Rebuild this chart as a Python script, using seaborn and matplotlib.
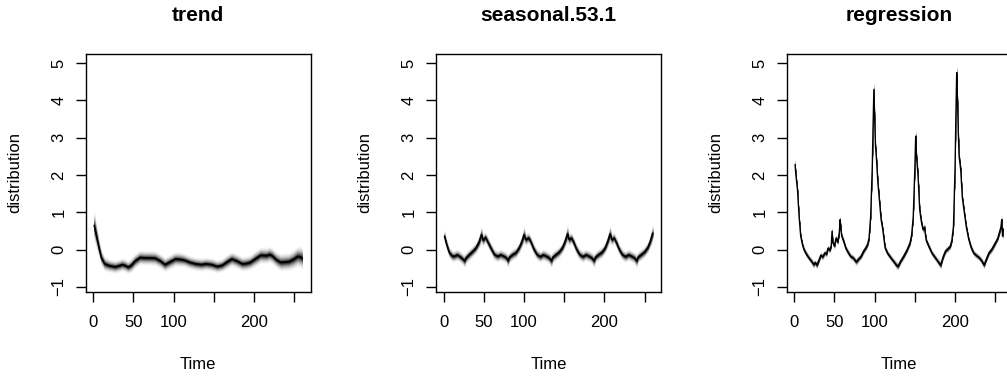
import numpy as np
import pandas as pd
import matplotlib
matplotlib.use("Agg")
import matplotlib.pyplot as plt
import seaborn as sns
from statistics import NormalDist

sns.set_theme(style="ticks")
plt.rcParams['font.family'] = ['Liberation Sans', 'DejaVu Sans']
plt.rcParams['text.color'] = 'black'
plt.rcParams['axes.labelcolor'] = 'black'
plt.rcParams['xtick.color'] = 'black'
plt.rcParams['ytick.color'] = 'black'
plt.rcParams['xtick.labelcolor'] = 'black'
plt.rcParams['ytick.labelcolor'] = 'black'

# ---------------- data ----------------
panel_titles = ["trend", "seasonal.53.1", "regression"]
x_ticks = [0, 50, 100, 150, 200, 250]
x_tick_labels = ["0", "50", "100", "", "200", ""]
y_ticks = [-1, 0, 1, 2, 3, 4, 5]
y_tick_labels = ["\u22121", "0", "1", "2", "3", "4", "5"]

trend_time = [1, 3, 5, 7, 10, 14, 20, 27, 32, 36, 40, 43, 47, 52, 58, 65, 72, 77, 83, 89,
              95, 102, 108, 113, 120, 127, 134, 140, 147, 154, 160, 166, 172, 178, 185, 190,
              195, 201, 208, 215, 219, 222, 228, 233, 238, 243, 248, 254, 258, 260]
trend_median = [0.65, 0.45, 0.25, 0.05, -0.22, -0.38, -0.43, -0.46, -0.43, -0.40,
                -0.43, -0.47, -0.42, -0.30, -0.21, -0.22, -0.22, -0.23, -0.30, -0.40,
                -0.33, -0.25, -0.26, -0.28, -0.34, -0.38, -0.40, -0.38, -0.40, -0.45,
                -0.42, -0.33, -0.25, -0.30, -0.38, -0.37, -0.34, -0.25, -0.15, -0.16,
                -0.13, -0.16, -0.28, -0.34, -0.33, -0.32, -0.27, -0.18, -0.20, -0.24]
trend_sd = [0.22, 0.19, 0.16, 0.13, 0.11, 0.10, 0.09, 0.09, 0.09, 0.09,
            0.09, 0.09, 0.10, 0.10, 0.10, 0.10, 0.10, 0.10, 0.10, 0.10,
            0.10, 0.10, 0.10, 0.09, 0.09, 0.09, 0.09, 0.09, 0.09, 0.09,
            0.09, 0.10, 0.10, 0.10, 0.10, 0.10, 0.10, 0.11, 0.11, 0.11,
            0.11, 0.11, 0.11, 0.12, 0.12, 0.12, 0.13, 0.14, 0.15, 0.15]

seasonal_time = [1, 4, 7, 11, 14, 17, 21, 24, 26, 28, 32, 36, 40, 44, 47,
                 49, 52, 55, 59, 63, 67, 71, 75, 78, 80, 82, 86, 90, 94, 97, 100,
                 102, 106, 109, 112, 116, 120, 124, 128, 131, 134, 136, 140, 144, 148, 151, 154,
                 156, 159, 162, 165, 169, 173, 177, 181, 184, 187, 189, 193, 197, 201, 204, 207,
                 209, 212, 215, 218, 222, 226, 230, 234, 237, 240, 242, 246, 250, 254, 257, 260]
seasonal_median = [0.36, 0.12, -0.08, -0.18, -0.17, -0.14, -0.20, -0.26, -0.30, -0.22, -0.13, -0.05, 0.04, 0.20, 0.40,
                   0.25, 0.33, 0.20, 0.03, -0.13, -0.18, -0.14, -0.18, -0.22, -0.30, -0.20, -0.13, -0.08, 0.05, 0.20, 0.40,
                   0.27, 0.31, 0.18, 0.02, -0.13, -0.19, -0.14, -0.18, -0.22, -0.30, -0.20, -0.13, -0.06, 0.06, 0.22, 0.42,
                   0.27, 0.31, 0.18, 0.02, -0.13, -0.19, -0.14, -0.18, -0.22, -0.30, -0.20, -0.13, -0.07, 0.05, 0.22, 0.42,
                   0.27, 0.31, 0.18, 0.02, -0.13, -0.19, -0.14, -0.18, -0.22, -0.30, -0.20, -0.13, -0.06, 0.06, 0.22, 0.44]
seasonal_sd = [0.09, 0.08, 0.08, 0.08, 0.08, 0.08, 0.08, 0.08, 0.10, 0.08, 0.08, 0.08, 0.08, 0.09, 0.13,
               0.09, 0.08, 0.08, 0.08, 0.08, 0.08, 0.08, 0.08, 0.08, 0.10, 0.08, 0.08, 0.08, 0.08, 0.09, 0.13,
               0.09, 0.08, 0.08, 0.08, 0.08, 0.08, 0.08, 0.08, 0.08, 0.10, 0.08, 0.08, 0.08, 0.08, 0.09, 0.13,
               0.09, 0.08, 0.08, 0.08, 0.08, 0.08, 0.08, 0.08, 0.08, 0.10, 0.08, 0.08, 0.08, 0.08, 0.09, 0.13,
               0.09, 0.08, 0.08, 0.08, 0.08, 0.08, 0.08, 0.08, 0.08, 0.10, 0.08, 0.08, 0.08, 0.08, 0.09, 0.13]

regression_time = [1, 2, 4, 6, 8, 10, 12, 15, 18, 21, 24, 26, 28, 30, 33, 35, 38, 40, 42, 44,
                   46, 47, 48, 50, 52, 54, 56, 57, 58, 59, 61, 64, 67, 70, 73, 77, 80, 83, 86, 89,
                   91, 93, 95, 97, 98, 99, 100, 101, 102, 104, 106, 108, 110, 113, 116, 120, 124, 127, 129, 132,
                   136, 140, 144, 146, 148, 150, 151, 152, 154, 156, 158, 160, 162, 164, 167, 171, 174, 177, 180, 182,
                   185, 188, 191, 194, 196, 198, 200, 201, 202, 203, 204, 205, 207, 209, 211, 214, 217, 220, 223, 226,
                   230, 233, 236, 238, 242, 246, 250, 253, 255, 257, 258, 259, 260]
regression_median = [2.28, 2.00, 1.61, 0.89, 0.36, 0.15, 0.00, -0.12, -0.22, -0.30, -0.40, -0.35, -0.42, -0.32, -0.15, -0.20, -0.09, -0.12, 0.04, -0.02,
                     0.10, 0.49, 0.18, 0.10, 0.31, 0.20, 0.45, 0.80, 0.55, 0.36, 0.25, 0.04, -0.08, -0.18, -0.22, -0.33, -0.25, -0.18, -0.05, 0.05,
                     0.13, 0.30, 0.89, 2.20, 3.30, 4.29, 3.50, 2.77, 2.50, 1.79, 1.30, 0.80, 0.55, 0.04, -0.10, -0.22, -0.33, -0.42, -0.45, -0.32,
                     -0.18, -0.02, 0.18, 0.40, 0.89, 2.20, 3.04, 2.50, 1.96, 1.07, 0.75, 0.54, 0.60, 0.25, 0.10, -0.09, -0.18, -0.27, -0.36, -0.42,
                     -0.20, -0.04, 0.02, 0.09, 0.25, 0.62, 2.23, 3.60, 4.74, 4.00, 3.13, 2.50, 2.14, 1.40, 1.07, 0.60, 0.27, 0.05, -0.09, -0.15,
                     -0.22, -0.30, -0.42, -0.30, -0.09, 0.02, 0.18, 0.30, 0.45, 0.60, 0.80, 0.36, 0.55]
regression_sd = [0.10, 0.06, 0.05, 0.05, 0.05, 0.05, 0.05, 0.05, 0.05, 0.05, 0.06, 0.05, 0.06, 0.05, 0.05, 0.05, 0.05, 0.05, 0.05, 0.05,
                 0.05, 0.07, 0.06, 0.05, 0.05, 0.05, 0.06, 0.07, 0.06, 0.05, 0.05, 0.05, 0.05, 0.05, 0.05, 0.06, 0.05, 0.05, 0.05, 0.05,
                 0.05, 0.05, 0.06, 0.09, 0.11, 0.13, 0.11, 0.09, 0.08, 0.07, 0.06, 0.06, 0.06, 0.05, 0.05, 0.05, 0.05, 0.06, 0.06, 0.05,
                 0.05, 0.05, 0.05, 0.05, 0.06, 0.09, 0.11, 0.09, 0.07, 0.06, 0.06, 0.06, 0.06, 0.05, 0.05, 0.05, 0.05, 0.05, 0.06, 0.06,
                 0.05, 0.05, 0.05, 0.05, 0.05, 0.06, 0.09, 0.11, 0.13, 0.11, 0.09, 0.08, 0.07, 0.06, 0.06, 0.06, 0.05, 0.05, 0.05, 0.05,
                 0.05, 0.05, 0.06, 0.05, 0.05, 0.05, 0.05, 0.05, 0.05, 0.06, 0.07, 0.05, 0.05]

series = [
    (trend_time, trend_median, trend_sd),
    (seasonal_time, seasonal_median, seasonal_sd),
    (regression_time, regression_median, regression_sd),
]

# ---------------- layout ----------------
W, H = 1007, 377
fig = plt.figure(figsize=(W / 100, H / 100), dpi=100)
fig.patch.set_facecolor("white")
lefts = [85.7, 436.0, 786.7]
box_w, box_top, box_bot = 225.0, 54.0, 291.7

probs = np.linspace(0.01, 0.49, 30)
nd = NormalDist()

for left, title, (t, m, s) in zip(lefts, panel_titles, series):
    ax = fig.add_axes([left / W, (H - box_bot) / H, box_w / W, (box_bot - box_top) / H])
    ax.set_facecolor("white")
    df = pd.DataFrame({"Time": t, "distribution": m, "sd": s})
    tt = df["Time"].to_numpy(float)
    mm = df["distribution"].to_numpy(float)
    ss = df["sd"].to_numpy(float)
    for p in probs:
        z = nd.inv_cdf(1 - p)
        g = 1 - (p - 0.01) / 0.48
        ax.fill_between(tt, mm - z * ss, mm + z * ss, color=str(round(g, 4)), lw=0)
    sns.lineplot(data=df, x="Time", y="distribution", color="black", lw=1.0, ax=ax)

    ax.set_xlim(-9.4, 270.4)
    ax.set_ylim(-1.13, 5.24)
    ax.set_xticks(x_ticks)
    ax.set_xticklabels(x_tick_labels)
    ax.set_yticks(y_ticks)
    ax.set_yticklabels(y_tick_labels, rotation=90, va="center")
    ax.tick_params(axis="both", direction="out", length=7, width=1, colors="black",
                   labelcolor="black", labelsize=12)
    ax.tick_params(axis="x", pad=10)
    ax.tick_params(axis="y", pad=7)
    for sp in ax.spines.values():
        sp.set_visible(True)
        sp.set_color("black")
        sp.set_linewidth(1.0)
    ax.set_xlabel("Time", fontsize=12, labelpad=19, color="black")
    ax.set_ylabel("distribution", fontsize=12, labelpad=21, color="black")
    ax.set_title(title, fontsize=15, fontweight="bold", pad=24, color="black")
    ax.grid(False)

fig.savefig("out.png", dpi=100, facecolor="white")
